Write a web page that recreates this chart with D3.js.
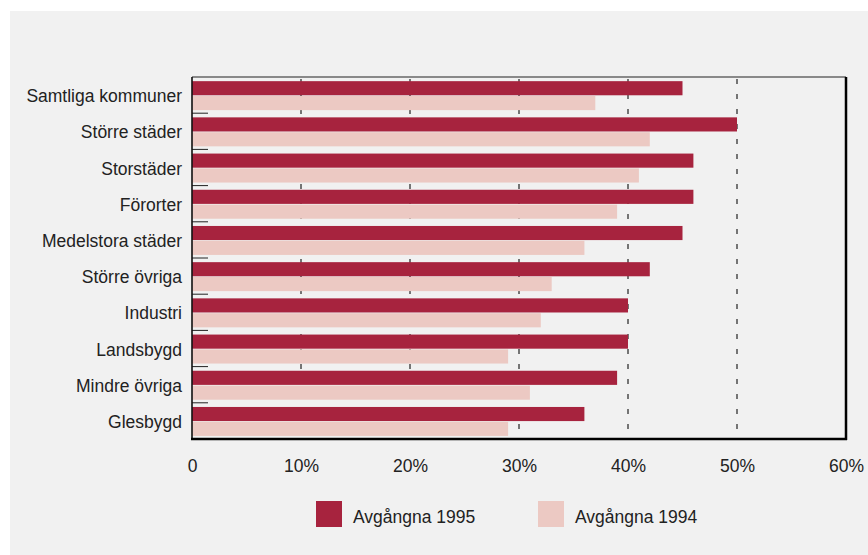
<!DOCTYPE html>
<html><head><meta charset="utf-8">
<script src="https://cdn.jsdelivr.net/npm/d3@7"></script>
<style>body{margin:0;background:#fff;}svg{display:block;}text{font-family:"Liberation Sans",Arial,sans-serif;fill:#222;}</style>
</head><body>
<svg id="c" width="868" height="555"></svg>
<script>
const categories = ["Samtliga kommuner","Större städer","Storstäder","Förorter","Medelstora städer","Större övriga","Industri","Landsbygd","Mindre övriga","Glesbygd"];
const values1995 = [45,50,46,46,45,42,40,40,39,36];
const values1994 = [37,42,41,39,36,33,32,29,31,29];
const seriesNames = ["Avgångna 1995","Avgångna 1994"];
const seriesColors = ["#a7233e","#ecc9c3"];
const xTicks = [0,10,20,30,40,50,60];
const xTickLabels = ["0","10%","20%","30%","40%","50%","60%"];

const FS = 17.5;
const svg = d3.select("#c");
svg.append("rect").attr("x",10).attr("y",11).attr("width",858).attr("height",544).attr("fill","#f1f1f1");

const L=192, R=846, T=77, B=439;
const x = d3.scaleLinear().domain([0,60]).range([L,R]);
const y = d3.scaleBand().domain(categories).range([T,B]).padding(0);
const bw = y.bandwidth();

// dashed gridlines
svg.append("g").selectAll("line").data(xTicks.filter(d=>d>0&&d<60)).join("line")
  .attr("x1",d=>x(d)).attr("x2",d=>x(d)).attr("y1",T).attr("y2",B)
  .attr("stroke","#222").attr("stroke-width",1.2).attr("stroke-dasharray","5,10").attr("stroke-dashoffset",-2);

const series=[values1995,values1994];
series.forEach((vals,si)=>{
  svg.append("g").selectAll("rect").data(categories).join("rect")
    .attr("x",x(0))
    .attr("y",(d)=>y(d)+bw*0.115+si*bw*0.41)
    .attr("width",(d,i)=>x(vals[i])-x(0))
    .attr("height",bw*0.39)
    .attr("fill",seriesColors[si]);
});

// inner ticks at group boundaries
svg.append("g").selectAll("line").data(categories.slice(1)).join("line")
  .attr("x1",L).attr("x2",L+16).attr("y1",d=>y(d)).attr("y2",d=>y(d))
  .attr("stroke","#222").attr("stroke-width",1);

// frame
svg.append("line").attr("x1",L).attr("x2",R).attr("y1",T).attr("y2",T).attr("stroke","#222").attr("stroke-width",1.2);
svg.append("line").attr("x1",L).attr("x2",L).attr("y1",T).attr("y2",B).attr("stroke","#111").attr("stroke-width",1.6);
svg.append("line").attr("x1",R).attr("x2",R).attr("y1",T).attr("y2",B+1).attr("stroke","#000").attr("stroke-width",2.5);
svg.append("line").attr("x1",L-1).attr("x2",R+1).attr("y1",B).attr("y2",B).attr("stroke","#000").attr("stroke-width",2.5);

// x axis labels
const xa = d3.axisBottom(x).tickValues(xTicks).tickFormat((d,i)=>xTickLabels[i]).tickSize(0).tickPadding(0);
const gx = svg.append("g").attr("transform",`translate(0,${B+21})`).call(xa);
gx.select(".domain").remove();
gx.selectAll("text").attr("font-size",FS).attr("fill","#222").attr("font-family","Liberation Sans, Arial, sans-serif");

// y axis labels
const ya = d3.axisLeft(y).tickSize(0).tickPadding(10);
const gy = svg.append("g").attr("transform",`translate(${L},1.5)`).call(ya);
gy.select(".domain").remove();
gy.selectAll("text").attr("font-size",FS).attr("fill","#222").attr("font-family","Liberation Sans, Arial, sans-serif");

// legend
const legX=[316,538];
seriesNames.forEach((n,i)=>{
  svg.append("rect").attr("x",legX[i]).attr("y",501).attr("width",26).attr("height",26).attr("fill",seriesColors[i]);
  svg.append("text").attr("x",legX[i]+37).attr("y",522.5).attr("font-size",FS).attr("fill","#222").text(n);
});
</script>
</body></html>
